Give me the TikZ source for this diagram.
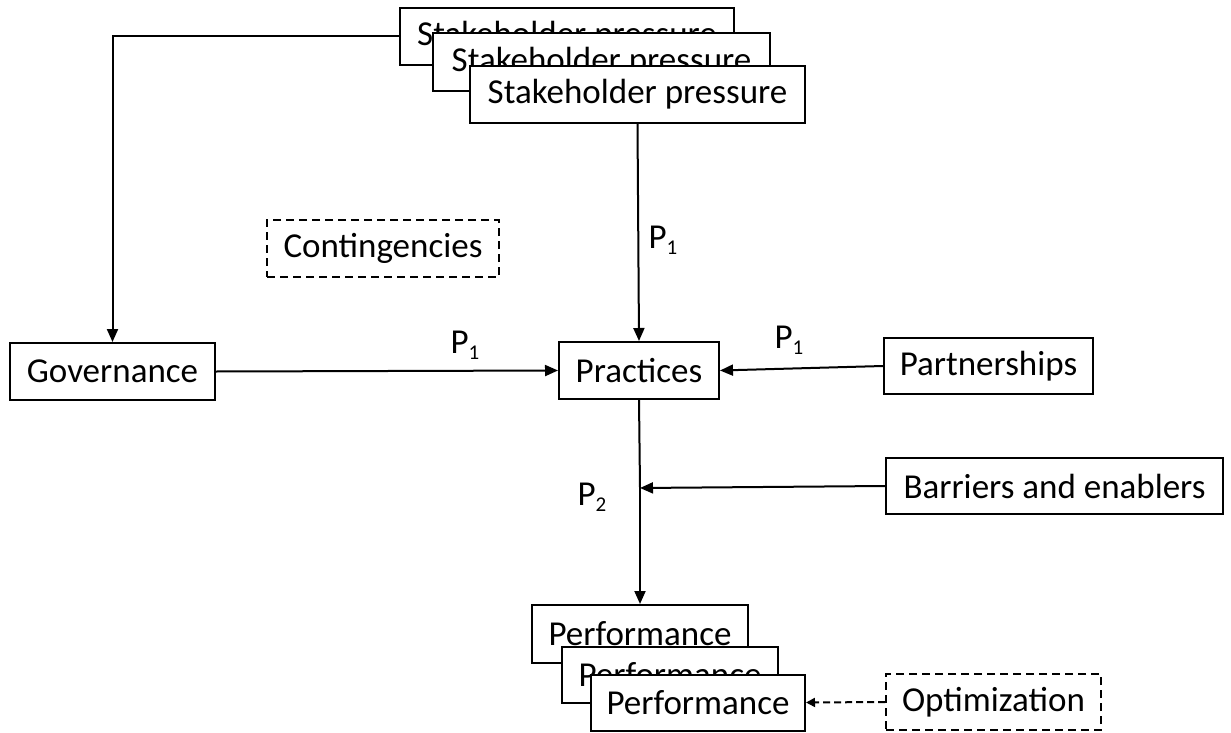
\documentclass[tikz,border=0pt]{standalone}
\usepackage{fontspec}
\setmainfont{Carlito}
\usetikzlibrary{arrows.meta}
\newcommand\Plab[1]{P\raisebox{-0.35ex}{\fontsize{21}{21}\selectfont #1}}
\begin{document}
\begin{tikzpicture}[x=1pt,y=-1pt,
  every node/.style={font=\fontsize{35}{40}\selectfont},
  box/.style={draw,line width=2pt,fill=white,inner sep=0pt},
  dbox/.style={box,dash pattern=on 8pt off 5pt},
  conn/.style={line width=2pt,-{Triangle[length=13pt,width=11pt]}},
  dconn/.style={line width=2pt,dash pattern=on 7pt off 4pt,-{Triangle[length=9pt,width=9pt]}},
  lab/.style={inner sep=0pt}]
\useasboundingbox (0,0) rectangle (1231,733);
% stakeholder stack
\node[box,minimum width=334pt,minimum height=57pt] (sp1) at (567,36.5) {Stakeholder pressure};
\node[box,minimum width=337pt,minimum height=58pt] (sp2) at (601.5,62) {Stakeholder pressure};
\node[box,minimum width=335pt,minimum height=57pt] (sp3) at (637.5,94.5) {Stakeholder pressure};
% main nodes
\node[box,minimum width=205pt,minimum height=57pt] (gov) at (112.5,371.5) {Governance};
\node[dbox,minimum width=232pt,minimum height=57pt] (cont) at (383,248.5) {Contingencies};
\node[box,minimum width=160pt,minimum height=57pt] (prac) at (639,370.5) {Practices};
\node[box,minimum width=209pt,minimum height=56pt] (part) at (988.5,366) {Partnerships};
\node[box,minimum width=337pt,minimum height=56pt] (bar) at (1054.5,486) {Barriers and enablers};
% performance stack
\node[box,minimum width=216pt,minimum height=58pt] (pfA) at (640,634) {Performance};
\node[box,minimum width=216pt,minimum height=56pt] (pfB) at (670,675) {Performance};
\node[box,minimum width=214pt,minimum height=56pt] (pfC) at (698,702.5) {Performance};
\node[dbox,minimum width=215pt,minimum height=56pt] (opt) at (993.5,702) {Optimization};
% midpoint on vertical
\coordinate (mid) at (640,488);
% connectors
\draw[conn] (sp1.west) -| (gov.north);
\draw[conn] (sp3.south) -- (prac.north);
\draw[conn] (gov.east) -- (prac.west);
\draw[conn] (part.west) -- (prac.east);
\draw[line width=2pt] (prac.south) -- (mid);
\draw[conn] (mid) -- (pfA.north);
\draw[conn] (bar.west) -- (mid);
\draw[dconn] (opt.west) -- (pfC.east);
% labels
\node[lab] (l1) at (663,240) {\Plab{1}};
\node[lab] (l2) at (465,345) {\Plab{1}};
\node[lab] (l3) at (789,340) {\Plab{1}};
\node[lab] (l4) at (592,497) {\Plab{2}};
\end{tikzpicture}
\end{document}
